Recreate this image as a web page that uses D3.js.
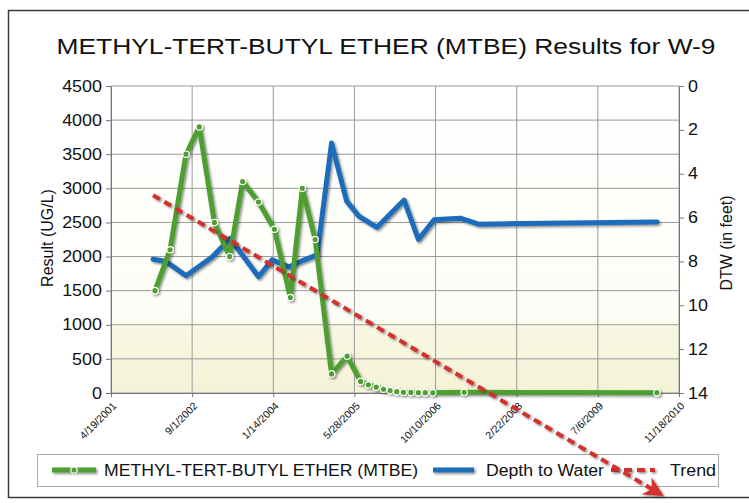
<!DOCTYPE html>
<html>
<head>
<meta charset="utf-8">
<script src="https://cdn.jsdelivr.net/npm/d3@7"></script>
<style>
	body { margin: 0; background: #fff; }
	svg { display: block; font-family: "Liberation Sans", Arial, sans-serif; }
</style>
</head>
<body>
<div id="chart"></div>
<script>
// values
var titleText = "METHYL-TERT-BUTYL ETHER (MTBE) Results for W-9";
var xTickLabels = ["4/19/2001", "9/1/2002", "1/14/2004", "5/28/2005", "10/10/2006", "2/22/2008", "7/6/2009", "11/18/2010"];
var leftTicks = [0, 500, 1000, 1500, 2000, 2500, 3000, 3500, 4000, 4500];
var rightTicks = [0, 2, 4, 6, 8, 10, 12, 14];

var mtbeDates = ["2002-01-15", "2002-04-18", "2002-07-25", "2002-10-15", "2003-01-16", "2003-04-20", "2003-07-09", "2003-10-15",
	"2004-01-21", "2004-04-28", "2004-07-11", "2004-09-28", "2005-01-07", "2005-04-13", "2005-07-05", "2005-08-22",
	"2005-10-09", "2005-11-23", "2006-01-03", "2006-02-13", "2006-03-26", "2006-05-11", "2006-06-26", "2006-08-07",
	"2006-09-23", "2007-04-04", "2010-07-05"];
var mtbeValues = [1500, 2100, 3500, 3900, 2500, 2000, 3100, 2800,
	2400, 1400, 3000, 2250, 280, 540, 170, 120,
	85, 55, 35, 20, 10, 8, 5, 5,
	3, 10, 5];

var dtwDates = ["2002-01-03", "2002-03-24", "2002-07-25", "2003-01-02", "2003-04-23", "2003-10-15", "2004-01-07", "2004-04-17",
	"2004-07-16", "2004-10-10", "2005-01-07", "2005-04-10", "2005-06-26", "2005-10-13", "2006-03-30", "2006-06-26",
	"2006-10-01", "2007-03-11", "2007-06-30", "2010-07-05"];
var dtwValues = [7.9, 8.0, 8.65, 7.8, 6.95, 8.7, 7.93, 8.25,
	7.95, 7.7, 2.6, 5.25, 5.95, 6.45, 5.2, 7.0,
	6.1, 6.03, 6.3, 6.2];

var trendDates = ["2002-01-03", "2010-07-26"];
var trendValues = [2900, -1480];

var seriesNames = ["METHYL-TERT-BUTYL ETHER (MTBE)", "Depth to Water", "Trend"];

var chart = {
	width: 749,
	height: 503,
	left: 111, right: 679, top: 86, bottom: 393,
	green: "#4f9e32",
	blue: "#1f6cba",
	red: "#d2332f"
};

var parseDate = d3.timeParse("%Y-%m-%d");
var parseTick = d3.timeParse("%m/%d/%Y");

var tickDates = xTickLabels.map(parseTick);
var mtbe = mtbeDates.map(function(d, i) { return { date: parseDate(d), value: mtbeValues[i] }; });
var dtw = dtwDates.map(function(d, i) { return { date: parseDate(d), value: dtwValues[i] }; });
var trend = trendDates.map(function(d, i) { return { date: parseDate(d), value: trendValues[i] }; });

var x = d3.scaleTime()
	.domain([tickDates[0], tickDates[tickDates.length - 1]])
	.range([chart.left, chart.right]);
var y = d3.scaleLinear().domain([0, 4500]).range([chart.bottom, chart.top]);
var y2 = d3.scaleLinear().domain([0, 14]).range([chart.top, chart.bottom]);

var svg = d3.select("#chart").append("svg")
	.attr("width", chart.width)
	.attr("height", chart.height);

var defs = svg.append("defs");
var grad = defs.append("linearGradient").attr("id", "plotbg")
	.attr("x1", 0).attr("y1", 0).attr("x2", 0).attr("y2", 1);
grad.append("stop").attr("offset", "0%").attr("stop-color", "#ffffff");
grad.append("stop").attr("offset", "75%").attr("stop-color", "#fdfdf7");
grad.append("stop").attr("offset", "79%").attr("stop-color", "#f8f7e2");
grad.append("stop").attr("offset", "100%").attr("stop-color", "#f4f2d6");

// user space filter so flat legend lines still get a shadow
var shadow = defs.append("filter").attr("id", "shadow")
	.attr("filterUnits", "userSpaceOnUse")
	.attr("x", 0).attr("y", 0).attr("width", chart.width).attr("height", chart.height);
shadow.append("feDropShadow")
	.attr("dx", 1.5).attr("dy", 1.5).attr("stdDeviation", 1)
	.attr("flood-color", "#000").attr("flood-opacity", 0.45);

defs.append("marker").attr("id", "arrow")
	.attr("viewBox", "0 0 10 10")
	.attr("refX", 8).attr("refY", 5)
	.attr("markerWidth", 5).attr("markerHeight", 5)
	.attr("orient", "auto")
	.append("path")
	.attr("d", "M0,0 L10,5 L0,10 L3,5 Z")
	.attr("fill", chart.red);

// stretch horizontal text a bit, the scan is wider than tall
function stretch(sel, k) {
	sel.each(function() {
		var w = this.getComputedTextLength();
		d3.select(this).attr("textLength", w * k).attr("lengthAdjust", "spacingAndGlyphs");
	});
}

//Frame
svg.append("rect")
	.attr("x", 8.5).attr("y", 10.5)
	.attr("width", 760).attr("height", 487)
	.attr("fill", "#fff")
	.attr("stroke", "#3a3a3a")
	.attr("stroke-width", 1.5);

//Title
svg.append("text")
	.attr("x", 386).attr("y", 54)
	.attr("text-anchor", "middle")
	.attr("font-size", 22)
	.attr("fill", "#111")
	.attr("textLength", 659)
	.attr("lengthAdjust", "spacingAndGlyphs")
	.text(titleText);

//Plot background and grid
svg.append("rect")
	.attr("x", chart.left).attr("y", chart.top)
	.attr("width", chart.right - chart.left)
	.attr("height", chart.bottom - chart.top)
	.attr("fill", "url(#plotbg)");

svg.append("g").selectAll("line")
	.data(leftTicks)
	.join("line")
	.attr("x1", chart.left).attr("x2", chart.right)
	.attr("y1", function(d) { return y(d); })
	.attr("y2", function(d) { return y(d); })
	.attr("stroke", "#9a9a9a")
	.attr("stroke-width", 1);

svg.append("g").selectAll("line")
	.data(tickDates)
	.join("line")
	.attr("x1", function(d) { return x(d); })
	.attr("x2", function(d) { return x(d); })
	.attr("y1", chart.top).attr("y2", chart.bottom)
	.attr("stroke", "#9a9a9a")
	.attr("stroke-width", 1);

//Axes
var leftAxis = svg.append("g")
	.attr("transform", "translate(" + chart.left + ",0)")
	.call(d3.axisLeft(y).tickValues(leftTicks).tickFormat(d3.format("d"))
		.tickSize(5).tickSizeOuter(0).tickPadding(4));
leftAxis.selectAll("text").attr("font-size", 16).attr("fill", "#111").call(stretch, 1.12);

var rightAxis = svg.append("g")
	.attr("transform", "translate(" + chart.right + ",0)")
	.call(d3.axisRight(y2).tickValues(rightTicks).tickFormat(d3.format("d"))
		.tickSize(5).tickSizeOuter(0).tickPadding(4));
rightAxis.selectAll("text").attr("font-size", 16).attr("fill", "#111").call(stretch, 1.12);

var bottomAxis = svg.append("g")
	.attr("transform", "translate(0," + chart.bottom + ")")
	.call(d3.axisBottom(x).tickValues(tickDates).tickSize(4).tickSizeOuter(0)
		.tickFormat(function(d, i) { return xTickLabels[i]; }));
bottomAxis.selectAll("text")
	.attr("font-size", 10.5)
	.attr("fill", "#111")
	.attr("x", 0).attr("y", 0).attr("dy", "0.35em")
	.attr("text-anchor", "end")
	.attr("transform", "translate(3,11) rotate(-45)");

[leftAxis, rightAxis, bottomAxis].forEach(function(a) {
	a.selectAll(".domain, .tick line").attr("stroke", "#777");
});

svg.append("text")
	.attr("transform", "translate(53,238) rotate(-90)")
	.attr("text-anchor", "middle")
	.attr("font-size", 16)
	.attr("fill", "#111")
	.text("Result (UG/L)");

svg.append("text")
	.attr("transform", "translate(732,243) rotate(-90)")
	.attr("text-anchor", "middle")
	.attr("font-size", 16)
	.attr("fill", "#111")
	.text("DTW (in feet)");

//Series
var mtbeLine = d3.line().x(function(d) { return x(d.date); }).y(function(d) { return y(d.value); });
var dtwLine = d3.line().x(function(d) { return x(d.date); }).y(function(d) { return y2(d.value); });

svg.append("path")
	.datum(dtw)
	.attr("d", dtwLine)
	.attr("fill", "none")
	.attr("stroke", chart.blue)
	.attr("stroke-width", 5)
	.attr("stroke-linejoin", "round")
	.attr("stroke-linecap", "round")
	.attr("filter", "url(#shadow)");

var mtbeGroup = svg.append("g").attr("filter", "url(#shadow)");
mtbeGroup.append("path")
	.datum(mtbe)
	.attr("d", mtbeLine)
	.attr("fill", "none")
	.attr("stroke", chart.green)
	.attr("stroke-width", 5)
	.attr("stroke-linejoin", "round")
	.attr("stroke-linecap", "round");
mtbeGroup.selectAll("circle")
	.data(mtbe)
	.join("circle")
	.attr("cx", function(d) { return x(d.date); })
	.attr("cy", function(d) { return y(d.value); })
	.attr("r", 3.2)
	.attr("fill", chart.green)
	.attr("stroke", "#fff")
	.attr("stroke-width", 1.2);

//Legend
var legend = svg.append("g");
legend.append("rect")
	.attr("x", 37.5).attr("y", 454.5)
	.attr("width", 681).attr("height", 32)
	.attr("fill", "#fff")
	.attr("stroke", "#aaa");

var legendItems = [
	{ name: seriesNames[0], x1: 52, x2: 96, tx: 104, tw: 314, color: chart.green, dash: null, marker: true },
	{ name: seriesNames[1], x1: 433, x2: 474, tx: 486, tw: 118, color: chart.blue, dash: null, marker: false },
	{ name: seriesNames[2], x1: 611, x2: 655, tx: 670, tw: 46, color: chart.red, dash: "8,5", marker: false }
];
legendItems.forEach(function(it) {
	var g = legend.append("g");
	g.append("line")
		.attr("x1", it.x1).attr("x2", it.x2)
		.attr("y1", 470).attr("y2", 470)
		.attr("stroke", it.color)
		.attr("stroke-width", it.dash ? 4 : 5)
		.attr("stroke-dasharray", it.dash)
		.attr("filter", "url(#shadow)");
	if (it.marker) {
		g.append("circle")
			.attr("cx", (it.x1 + it.x2) / 2).attr("cy", 470).attr("r", 3.2)
			.attr("fill", it.color).attr("stroke", "#fff").attr("stroke-width", 1.2);
	}
	g.append("text")
		.attr("x", it.tx).attr("y", 476)
		.attr("font-size", 16)
		.attr("fill", "#111")
		.attr("textLength", it.tw)
		.attr("lengthAdjust", "spacingAndGlyphs")
		.text(it.name);
});

//Trend line runs past the plot into the legend
svg.append("path")
	.datum(trend)
	.attr("d", mtbeLine)
	.attr("fill", "none")
	.attr("stroke", chart.red)
	.attr("stroke-width", 4)
	.attr("stroke-dasharray", "8,5")
	.attr("marker-end", "url(#arrow)")
	.attr("filter", "url(#shadow)");
</script>
</body>
</html>
